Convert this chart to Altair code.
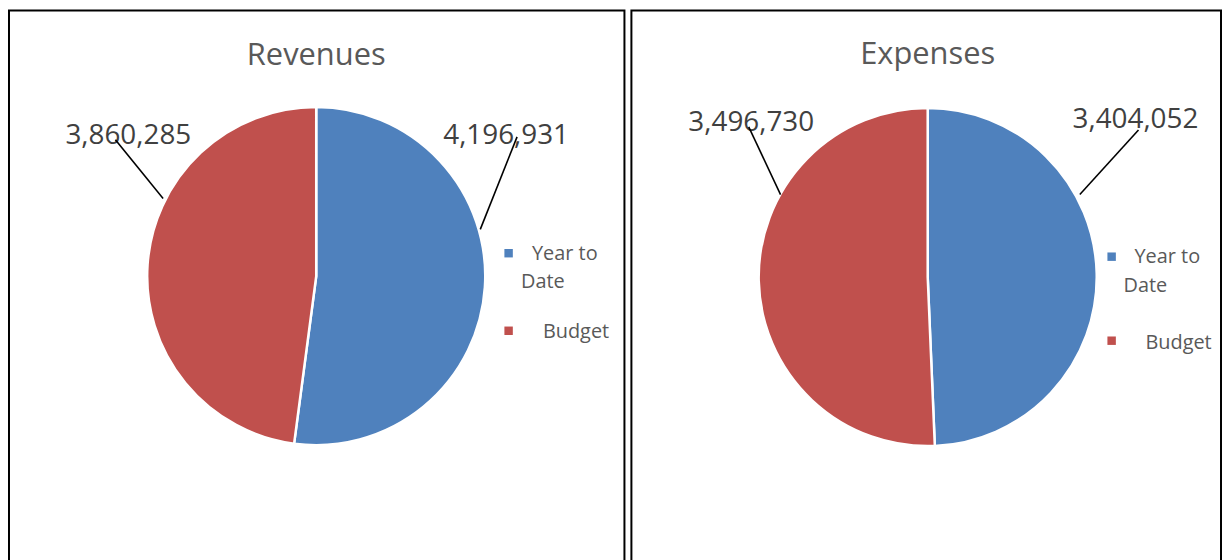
import altair as alt
import pandas as pd

# ---- data ----
categories = ["Year to Date", "Budget"]
revenues = [4196931, 3860285]
expenses = [3404052, 3496730]
panel_titles = ["Revenues", "Expenses"]
colors = ["#4F81BD", "#C0504D"]

FONT = "Open Sans"
color_scale = alt.Scale(domain=categories, range=colors)


def panel(title, values, w, h, cx, cy, title_y, label_style, leaders, leg_x, leg_range, leg_text):
    df = pd.DataFrame({"category": categories, "value": values, "order": list(range(len(categories)))})
    base = alt.Chart(df)
    layers = []

    # title inside the bordered panel
    layers.append(
        alt.Chart(pd.DataFrame({"title": [title]}))
        .mark_text(font=FONT, fontSize=31, color="#595959", align="center", baseline="alphabetic")
        .encode(text="title:N", x=alt.value(cx), y=alt.value(title_y))
    )

    # pie
    layers.append(
        base.mark_arc(outerRadius=170, stroke="white", strokeWidth=2.5)
        .encode(
            theta=alt.Theta("value:Q", stack=True),
            color=alt.Color("category:N", scale=color_scale, legend=None),
            order=alt.Order("order:Q"),
            x=alt.value(cx),
            y=alt.value(cy),
        )
    )

    # data labels
    lab = base.transform_window(
        cum="sum(value)", sort=[alt.SortField("order")]
    ).transform_calculate(mid="datum.cum - datum.value / 2", lbl="format(datum.value, ',')")
    for cat, (dx, dy) in label_style.items():
        layers.append(
            lab.transform_filter(alt.datum.category == cat)
            .mark_text(font=FONT, fontSize=28, color="#404040", align="center",
                       baseline="alphabetic", dx=dx, dy=dy)
            .encode(
                theta=alt.Theta("mid:Q", stack=None),
                radius=alt.value(190),
                text="lbl:N",
                x=alt.value(cx),
                y=alt.value(cy),
            )
        )

    # leader lines
    for cat, (x1, y1, x2, y2) in leaders.items():
        layers.append(
            base.transform_filter(alt.datum.category == cat)
            .mark_rule(color="black", strokeWidth=1.6)
            .encode(x=alt.value(x1), y=alt.value(y1), x2=alt.value(x2), y2=alt.value(y2))
        )

    # legend
    ly = alt.Y("category:N", scale=alt.Scale(domain=categories, type="point", range=leg_range, padding=0), axis=None)
    layers.append(
        base.mark_square(size=72, opacity=1)
        .encode(x=alt.value(leg_x), y=ly,
                color=alt.Color("category:N", scale=color_scale, legend=None))
    )
    leg = base.transform_calculate(
        line1="datum.category == 'Year to Date' ? 'Year to' : datum.category",
        line2="datum.category == 'Year to Date' ? 'Date' : ''",
    )
    (x_a, dy_a), (x_b, dy_b), (x_c, dy_c) = leg_text
    layers.append(
        leg.transform_filter(alt.datum.category == categories[0])
        .mark_text(font=FONT, fontSize=20, color="#595959", align="left", baseline="alphabetic", dy=dy_a)
        .encode(text="line1:N", x=alt.value(x_a), y=ly)
    )
    layers.append(
        leg.transform_filter(alt.datum.category == categories[0])
        .mark_text(font=FONT, fontSize=20, color="#595959", align="left", baseline="alphabetic", dy=dy_b)
        .encode(text="line2:N", x=alt.value(x_b), y=ly)
    )
    layers.append(
        leg.transform_filter(alt.datum.category == categories[1])
        .mark_text(font=FONT, fontSize=20, color="#595959", align="left", baseline="alphabetic", dy=dy_c)
        .encode(text="line1:N", x=alt.value(x_c), y=ly)
    )

    return alt.layer(*layers).properties(width=w, height=h)


left = panel(
    panel_titles[0], revenues, 619, 560, 309, 267, 55,
    {"Year to Date": (1.4, -145.4), "Budget": (0.6, -120.6)},
    {"Year to Date": (511, 127, 474, 220), "Budget": (107, 130, 155, 189)},
    502.5, [244, 322],
    [(526, 7), (515, 35), (537, 7)],
)
right = panel(
    panel_titles[1], expenses, 593, 560, 298, 268, 54,
    {"Year to Date": (19, -146), "Budget": (12.5, -151)},
    {"Year to Date": (510, 120, 451, 185), "Budget": (118, 117, 150, 185)},
    483, [247.5, 332],
    [(506, 6.5), (495, 35.5), (517, 8)],
)

chart = (
    alt.hconcat(left, right, spacing=5, padding=0)
    .resolve_scale(theta="independent", y="independent")
    .configure_view(stroke="black", strokeWidth=2)
)

chart.save("out.html", embed_options={"renderer": "svg", "actions": False})
